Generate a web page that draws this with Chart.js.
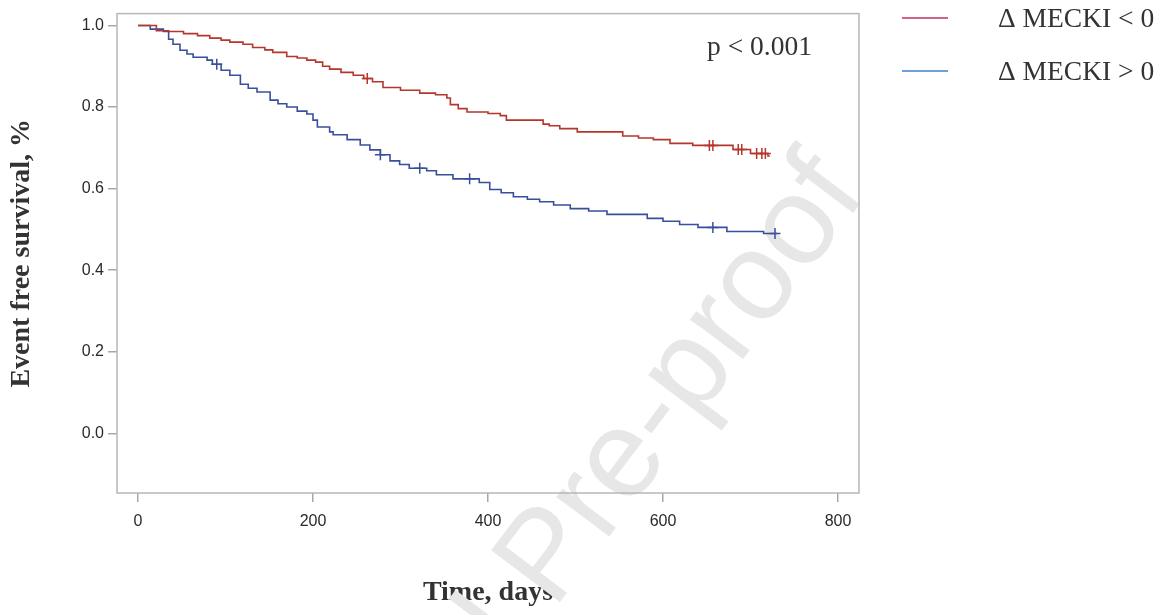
<!DOCTYPE html>
<html>
<head>
<meta charset="utf-8">
<script src="https://cdn.jsdelivr.net/npm/chart.js@4.4.1/dist/chart.umd.min.js"></script>
<style>
  html, body { margin: 0; padding: 0; background: #fff; }
  #wrap { width: 1168px; height: 615px; position: relative; }
</style>
</head>
<body>
<div id="wrap"><canvas id="kmChart"></canvas></div>
<script>
// Kaplan-Meier curves, values
const seriesNames = ["\u0394 MECKI < 0", "\u0394 MECKI > 0"];

const negTimes = [0, 21, 35, 52, 68, 82, 95, 105, 120, 131, 145, 154, 170, 182, 193, 203, 211, 219, 232, 246, 258, 268, 280, 300, 322, 340, 353, 357, 366, 376, 400, 414, 421, 463, 470, 482, 502, 554, 572, 589, 608, 634, 680, 700, 720];
const negSurv = [1.0, 0.987, 0.985, 0.980, 0.975, 0.969, 0.964, 0.959, 0.954, 0.946, 0.940, 0.934, 0.924, 0.920, 0.915, 0.910, 0.900, 0.893, 0.885, 0.878, 0.870, 0.862, 0.848, 0.841, 0.834, 0.830, 0.822, 0.806, 0.796, 0.788, 0.784, 0.779, 0.768, 0.758, 0.754, 0.747, 0.739, 0.729, 0.724, 0.720, 0.711, 0.706, 0.696, 0.686, 0.680];
const negCensored = [262, 653, 657, 686, 690, 707, 713, 717];
const negLastDay = 722;

const posTimes = [0, 14, 29, 35, 40, 48, 56, 63, 79, 85, 95, 105, 117, 126, 136, 151, 160, 170, 182, 193, 200, 205, 219, 223, 239, 254, 265, 277, 288, 299, 310, 330, 341, 360, 390, 402, 415, 429, 445, 459, 475, 494, 515, 536, 582, 600, 619, 640, 673, 715];
const posSurv = [1.0, 0.991, 0.985, 0.966, 0.954, 0.939, 0.930, 0.922, 0.915, 0.905, 0.890, 0.878, 0.856, 0.846, 0.837, 0.817, 0.808, 0.800, 0.790, 0.783, 0.768, 0.751, 0.739, 0.732, 0.720, 0.707, 0.695, 0.683, 0.668, 0.659, 0.650, 0.644, 0.634, 0.624, 0.615, 0.598, 0.590, 0.580, 0.574, 0.568, 0.560, 0.551, 0.545, 0.537, 0.527, 0.520, 0.512, 0.505, 0.495, 0.490];
const posCensored = [90, 277, 322, 379, 657, 728];
const posLastDay = 730;

const xTicks = [0, 200, 400, 600, 800];
const yTicks = [0, 0.2, 0.4, 0.6, 0.8, 1.0];
const pValueText = "p < 0.001";
const watermarkText = "Journal Pre-proof";

const lineColors = ["#b5372c", "#3a4f9c"];
const legendColors = ["#c2305a", "#3a80cf"];

function survAt(times, surv, t) {
  let v = surv[0];
  for (let i = 0; i < times.length; i++) {
    if (times[i] <= t) v = surv[i];
  }
  return v;
}

function stepPoints(times, surv, lastDay) {
  const pts = times.map((t, i) => ({ x: t, y: surv[i] }));
  pts.push({ x: lastDay, y: surv[surv.length - 1] });
  return pts;
}

function censorPoints(times, surv, cens) {
  return cens.map(t => ({ x: t, y: survAt(times, surv, t) }));
}

const serif = "'Liberation Serif', 'Times New Roman', serif";
const sans = "'Liberation Sans', Arial, sans-serif";

const decorPlugin = {
  id: "decor",
  beforeDatasetsDraw(chart) {
    const ctx = chart.ctx;
    const a = chart.chartArea;
    // watermark
    ctx.save();
    ctx.font = "125px " + sans;
    ctx.fillStyle = "#e7e7e7";
    ctx.translate(624, 463);
    ctx.rotate(-53 * Math.PI / 180);
    const before = ctx.measureText("Journal Pr").width;
    const eW = ctx.measureText("e").width;
    ctx.textBaseline = "alphabetic";
    ctx.fillText(watermarkText, -before - eW / 2, 125 * 0.26);
    ctx.restore();
    // frame
    ctx.save();
    ctx.strokeStyle = "#b4b8bc";
    ctx.lineWidth = 1.5;
    ctx.strokeRect(a.left, a.top, a.right - a.left, a.bottom - a.top);
    ctx.restore();
  },
  afterDraw(chart) {
    const ctx = chart.ctx;
    const a = chart.chartArea;
    ctx.save();
    ctx.fillStyle = "#333";
    ctx.textBaseline = "middle";
    ctx.font = "27.5px " + serif;
    ctx.fillText(pValueText, a.right - 152, 48);
    const lx = a.right + 43;
    seriesNames.forEach((name, i) => {
      const y = 18 + i * 53;
      ctx.strokeStyle = legendColors[i];
      ctx.lineWidth = 1.5;
      ctx.beginPath();
      ctx.moveTo(lx, y);
      ctx.lineTo(lx + 46, y);
      ctx.stroke();
      ctx.font = "27.5px " + serif;
      ctx.fillStyle = "#333";
      ctx.fillText(name, lx + 96, y + 2);
    });
    ctx.restore();
  }
};

new Chart(document.getElementById("kmChart"), {
  type: "line",
  data: {
    datasets: [
      {
        label: seriesNames[0],
        data: stepPoints(negTimes, negSurv, negLastDay),
        borderColor: lineColors[0],
        borderWidth: 1.6,
        stepped: true,
        pointRadius: 0,
        fill: false
      },
      {
        label: seriesNames[1],
        data: stepPoints(posTimes, posSurv, posLastDay),
        borderColor: lineColors[1],
        borderWidth: 1.6,
        stepped: true,
        pointRadius: 0,
        fill: false
      },
      {
        label: "censored 1",
        data: censorPoints(negTimes, negSurv, negCensored),
        showLine: false,
        pointStyle: "cross",
        pointRadius: 5.5,
        pointBorderWidth: 1.5,
        pointBorderColor: lineColors[0]
      },
      {
        label: "censored 2",
        data: censorPoints(posTimes, posSurv, posCensored),
        showLine: false,
        pointStyle: "cross",
        pointRadius: 5.5,
        pointBorderWidth: 1.5,
        pointBorderColor: lineColors[1]
      }
    ]
  },
  options: {
    responsive: true,
    maintainAspectRatio: false,
    animation: false,
    layout: { padding: { left: 0, top: 11, right: 309, bottom: 0 } },
    plugins: {
      legend: { display: false },
      tooltip: { enabled: false }
    },
    scales: {
      x: {
        type: "linear",
        min: -24,
        max: 824,
        afterBuildTicks: (s) => { s.ticks = xTicks.map(v => ({ value: v })); },
        afterFit: (s) => { s.height = 122; },
        grid: { drawOnChartArea: false, tickLength: 9, color: "#a4a8ac", lineWidth: 1.5 },
        border: { display: false },
        ticks: {
          font: { family: sans, size: 16 },
          color: "#2a2a2a",
          padding: 10,
          maxRotation: 0,
          callback: (v) => String(v)
        },
        title: {
          display: true,
          text: "Time, days",
          font: { family: serif, size: 28, weight: "bold" },
          color: "#333",
          padding: { top: 0, bottom: 5 }
        }
      },
      y: {
        min: -0.146,
        max: 1.029,
        afterBuildTicks: (s) => { s.ticks = yTicks.map(v => ({ value: v })); },
        afterFit: (s) => { s.width = 117; },
        grid: { drawOnChartArea: false, tickLength: 9, color: "#a4a8ac", lineWidth: 1.5 },
        border: { display: false },
        ticks: {
          font: { family: sans, size: 16 },
          color: "#2a2a2a",
          padding: 4,
          callback: (v) => v.toFixed(1)
        },
        title: {
          display: true,
          text: "Event free survival, %",
          font: { family: serif, size: 28, weight: "bold" },
          color: "#333",
          padding: { top: 5, bottom: 0 }
        }
      }
    }
  },
  plugins: [decorPlugin]
});
</script>
</body>
</html>
